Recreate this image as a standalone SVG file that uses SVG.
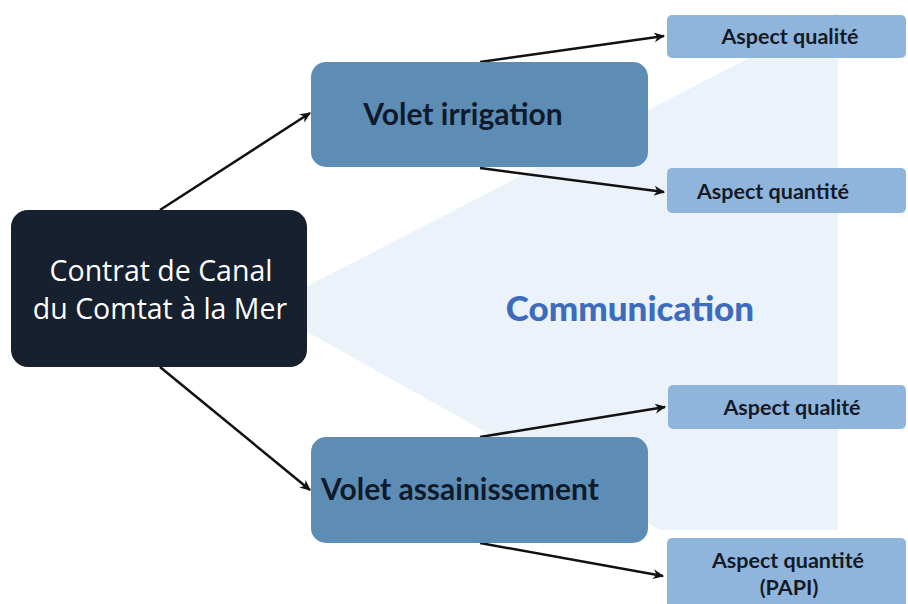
<svg xmlns="http://www.w3.org/2000/svg" width="908" height="604" viewBox="0 0 908 604">
  <defs>
    <marker id="arr" viewBox="0 0 10 10" refX="9" refY="5" markerWidth="11" markerHeight="11" markerUnits="userSpaceOnUse" orient="auto">
      <path d="M0,0.5 L10,5 L0,9.5 L3,5 Z" fill="#111"/>
    </marker>
    <style>
      .conn { stroke:#111; stroke-width:2.5; fill:none; marker-end:url(#arr); }
      .volet { fill:#5d8db4; }
      .aspect { fill:#90b5dc; }
      .vt { font-family:Lato, "Liberation Sans", sans-serif; font-weight:bold; font-size:30px; fill:#0f1a2c; }
      .at { font-family:Lato, "Liberation Sans", sans-serif; font-weight:bold; font-size:21.5px; fill:#141a26; text-anchor:middle; }
      .mt { font-family:"Open Sans", "Liberation Sans", sans-serif; font-size:28.5px; fill:#ffffff; text-anchor:middle; }
    </style>
  </defs>
  <rect width="908" height="604" fill="#ffffff"/>
  <polygon id="fan" points="265,308 838,12 838,530 660,530" fill="#ebf2fa"/>
  <text id="communication" x="630" y="321" text-anchor="middle" font-family="Lato, 'Liberation Sans', sans-serif" font-weight="900" font-size="35" fill="#3d6cbf">Communication</text>

  <g id="connectors">
    <line class="conn" x1="160" y1="210" x2="310" y2="113"/>
    <line class="conn" x1="160" y1="367" x2="310" y2="490"/>
    <line class="conn" x1="480" y1="62" x2="664" y2="36"/>
    <line class="conn" x1="480" y1="168" x2="664" y2="192"/>
    <line class="conn" x1="480" y1="437" x2="665" y2="407"/>
    <line class="conn" x1="480" y1="543" x2="663" y2="576"/>
  </g>

  <g id="contrat">
    <rect x="11" y="210" width="296" height="157" rx="17" fill="#16202e"/>
    <text class="mt" x="161" y="281">Contrat de Canal</text>
    <text class="mt" x="160" y="319">du Comtat à la Mer</text>
  </g>

  <g id="volet-irrigation">
    <rect class="volet" x="311" y="62" width="337" height="105" rx="15"/>
    <text class="vt" x="463" y="125" text-anchor="middle">Volet irrigation</text>
  </g>

  <g id="volet-assainissement">
    <rect class="volet" x="311" y="437" width="337" height="106" rx="15"/>
    <text class="vt" x="321" y="500">Volet assainissement</text>
  </g>

  <g id="irrigation-qualite">
    <rect class="aspect" x="667" y="15" width="239" height="43" rx="5"/>
    <text class="at" x="790" y="44">Aspect qualité</text>
  </g>

  <g id="irrigation-quantite">
    <rect class="aspect" x="667" y="168" width="239" height="45" rx="5"/>
    <text class="at" x="773" y="199">Aspect quantité</text>
  </g>

  <g id="assainissement-qualite">
    <rect class="aspect" x="668" y="385" width="238" height="44" rx="5"/>
    <text class="at" x="792" y="415">Aspect qualité</text>
  </g>

  <g id="assainissement-quantite">
    <rect class="aspect" x="667" y="538" width="239" height="70" rx="5"/>
    <text class="at" x="788" y="568">Aspect quantité</text>
    <text class="at" x="789" y="595">(PAPI)</text>
  </g>
</svg>
